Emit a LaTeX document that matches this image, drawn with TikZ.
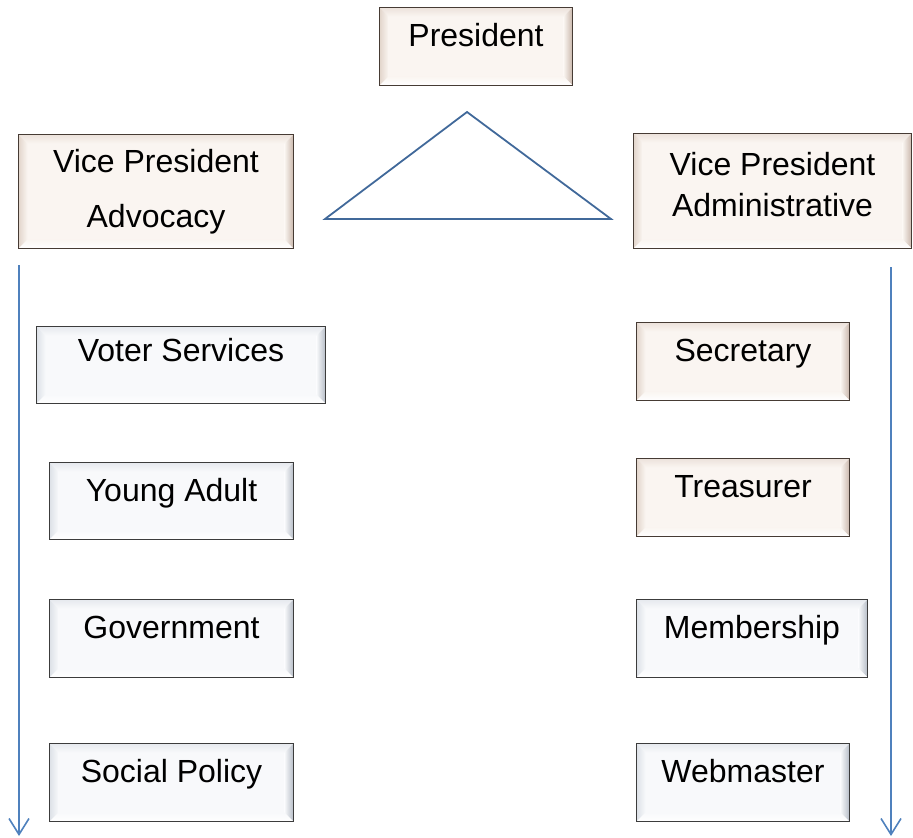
\documentclass[tikz,border=0pt]{standalone}
\usepackage{fontspec}
\setmainfont{Liberation Sans}
\usetikzlibrary{arrows.meta}
\definecolor{beigec}{HTML}{FAF5F1}
\definecolor{beiget}{HTML}{ECE2DB}
\definecolor{beigel}{HTML}{E2D5CB}
\definecolor{beiger}{HTML}{C9B7AB}
\definecolor{beigeb}{HTML}{FFFFFF}
\definecolor{beiged}{HTML}{463B34}
\definecolor{greyc}{HTML}{F8F9FB}
\definecolor{greyt}{HTML}{E6E9EE}
\definecolor{greyl}{HTML}{DDE1E7}
\definecolor{greyr}{HTML}{B5BCC6}
\definecolor{greyb}{HTML}{FFFFFF}
\definecolor{greyd}{HTML}{3C3C3C}
\definecolor{arrowblue}{HTML}{4F81BD}
\definecolor{triblue}{HTML}{41699A}
\tikzset{
  bevel/.style={rectangle, draw=#1d, line width=1.4pt, fill=#1c,
    font=\fontsize{32}{38}\selectfont, inner sep=0pt,
    text height=23pt, text depth=23pt,
    path picture={
      \path (path picture bounding box.north west) coordinate (bvnw)
            (path picture bounding box.north east) coordinate (bvne)
            (path picture bounding box.south west) coordinate (bvsw)
            (path picture bounding box.south east) coordinate (bvse);
      \begin{scope}
        \clip (bvnw) -- (bvne) -- ([xshift=-9pt,yshift=-9pt]bvne) -- ([xshift=9pt,yshift=-9pt]bvnw) -- cycle;
        \shade[top color=#1t, bottom color=#1c] (bvnw) rectangle ([yshift=-9pt]bvne);
      \end{scope}
      \begin{scope}
        \clip (bvnw) -- (bvsw) -- ([xshift=9pt,yshift=9pt]bvsw) -- ([xshift=9pt,yshift=-9pt]bvnw) -- cycle;
        \shade[left color=#1l, right color=#1c] (bvnw) rectangle ([xshift=9pt]bvsw);
      \end{scope}
      \begin{scope}
        \clip (bvne) -- (bvse) -- ([xshift=-9pt,yshift=9pt]bvse) -- ([xshift=-9pt,yshift=-9pt]bvne) -- cycle;
        \shade[left color=#1c, right color=#1r] ([xshift=-9pt]bvne) rectangle (bvse);
      \end{scope}
      \begin{scope}
        \clip (bvsw) -- (bvse) -- ([xshift=-9pt,yshift=9pt]bvse) -- ([xshift=9pt,yshift=9pt]bvsw) -- cycle;
        \shade[top color=#1c, bottom color=#1b] ([yshift=9pt]bvsw) rectangle (bvse);
      \end{scope}
    }},
  beigebox/.style={bevel=beige},
  greybox/.style={bevel=grey},
  twoline/.style={text height=, text depth=, align=center},
  downarrow/.style={draw=arrowblue, line width=2pt, -{Straight Barb[length=16pt,width=20pt,line width=1.6pt]}},
  tri/.style={draw=triblue, line width=1.8pt, line join=miter}
}
\begin{document}
\begin{tikzpicture}[x=1pt,y=-1pt]
\useasboundingbox (0,0) rectangle (913,838);
% boxes
\node[beigebox, minimum width=193pt, minimum height=78pt] (pres) at (476,46.5) {President};
\node[beigebox, twoline, minimum width=275pt, minimum height=114pt, font=\fontsize{32}{55}\selectfont] (vpa) at (156,191.5) {Vice President\\Advocacy};
\node[beigebox, twoline, minimum width=278pt, minimum height=115pt, font=\fontsize{32}{41}\selectfont] (vpd) at (772.5,191) {Vice President\\Administrative\rule[-14pt]{0pt}{0pt}};
\node[greybox, minimum width=289pt, minimum height=77pt, text depth=31pt] (voter) at (181,365) {Voter Services};
\node[greybox, minimum width=244pt, minimum height=77pt] (young) at (171.5,501) {Young Adult};
\node[greybox, minimum width=244pt, minimum height=78pt] (gov) at (171.5,638.5) {Government};
\node[greybox, minimum width=244pt, minimum height=78pt] (social) at (171.5,782.5) {Social Policy};
\node[beigebox, minimum width=213pt, minimum height=78pt] (sec) at (743,361.5) {Secretary};
\node[beigebox, minimum width=213pt, minimum height=78pt] (treas) at (743,497.5) {Treasurer};
\node[greybox, minimum width=231pt, minimum height=78pt] (memb) at (752,638.5) {Membership};
\node[greybox, minimum width=213pt, minimum height=78pt] (web) at (743,782.5) {Webmaster};
% triangle
\coordinate (tapex) at (467,112);
\coordinate (tleft) at (325,219);
\coordinate (tright) at (611,219);
\draw[tri] (tapex) -- (tleft) -- (tright) -- cycle;
% arrows
\coordinate (la) at (19,265);
\coordinate (lb) at (19,836);
\coordinate (ra) at (891,267);
\coordinate (rb) at (891,836);
\draw[downarrow] (la) -- (lb);
\draw[downarrow] (ra) -- (rb);
\end{tikzpicture}
\end{document}
